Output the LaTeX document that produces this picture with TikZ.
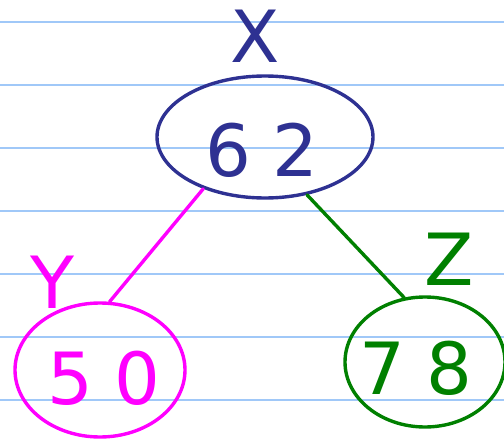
\documentclass[tikz,border=0pt]{standalone}
\usepackage{fontspec}
\usetikzlibrary{shapes.geometric}
\newfontfamily\handfont[LetterSpace=30]{DejaVu Sans}
\definecolor{inkblue}{RGB}{46,49,146}
\definecolor{inkpink}{RGB}{255,0,255}
\definecolor{inkgreen}{RGB}{0,128,0}
\definecolor{rule}{RGB}{160,200,248}
\begin{document}
\begin{tikzpicture}[x=1pt, y=-1pt, line cap=round, line join=round,
    ruling/.style={rule, line width=2.2pt},
    knot/.style={ellipse, draw, line width=3.4pt, inner sep=0pt},
    digits/.style={inner sep=0pt, font=\handfont\fontsize{72}{72}\selectfont},
    tag/.style={inner sep=0pt, font=\handfont\fontsize{72}{72}\selectfont},
    edge/.style={line width=3.4pt}]
  \useasboundingbox[fill=white] (0,0) rectangle (504,442);
  % Linien
  \foreach \y in {22,85,...,400} \draw[ruling] (0,\y) -- (504,\y);
  % Knoten
  \node[knot, inkblue, minimum width=216pt, minimum height=122pt] (n62) at (265,137) {};
  \node[knot, inkpink, minimum width=170pt, minimum height=134pt] (n50) at (100,370) {};
  \node[knot, inkgreen, minimum width=160pt, minimum height=130pt] (n78) at (425,362) {};
  \node[digits, inkblue] (d62) at (262,150) {62};
  \node[digits, inkpink] (d50) at (104,378) {50};
  \node[digits, inkgreen] (d78) at (416,368) {78};
  \node[tag, inkblue] (tX) at (255,36) {X};
  \node[tag, inkpink] (tY) at (52,282) {Y};
  \node[tag, inkgreen] (tZ) at (449,259) {Z};
  % Kanten
  \draw[edge, inkpink] (n62.220) -- (n50.82);
  \draw[edge, inkgreen] (n62.306) -- (n78.108);
\end{tikzpicture}
\end{document}
